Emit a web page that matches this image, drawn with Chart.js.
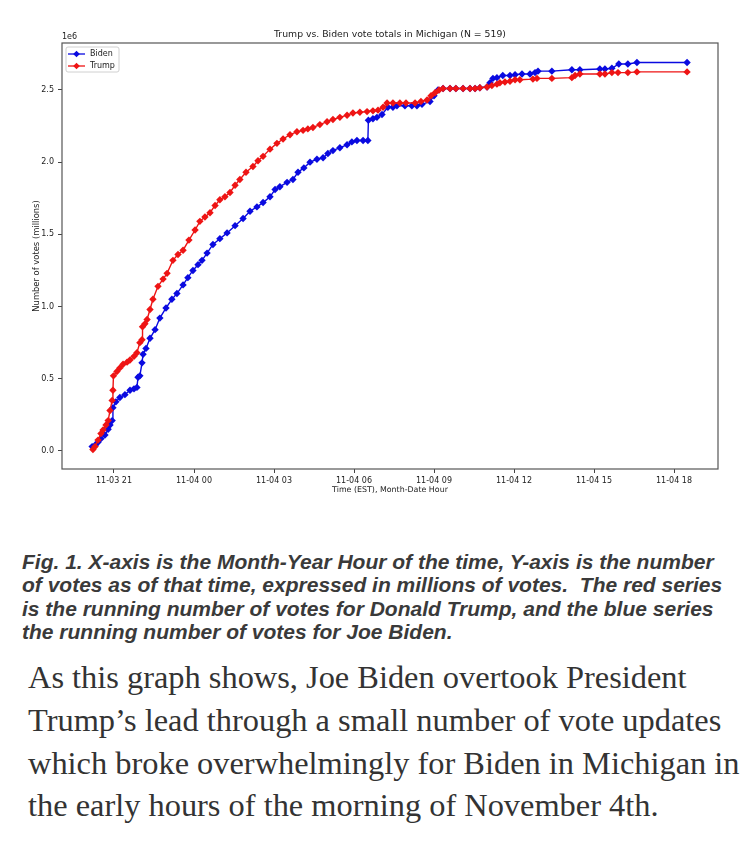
<!DOCTYPE html>
<html>
<head>
<meta charset="utf-8">
<script src="https://cdn.jsdelivr.net/npm/chart.js@4.4.1/dist/chart.umd.min.js"></script>
<style>
    body { margin: 0; background: #fff; width: 750px; }
    #wrap { position: relative; width: 750px; height: 505px; }
    .caption {
        margin: 45px 0 0 22px;
        font-family: "Liberation Sans", Arial, sans-serif;
        font-weight: bold;
        font-style: italic;
        font-size: 21px;
        line-height: 23.3px;
        color: #3a3a3a;
        white-space: nowrap;
    }
    .text {
        margin: 13px 0 0 28px;
        font-family: "Liberation Serif", serif;
        font-size: 32.4px;
        line-height: 42.7px;
        color: #333;
        white-space: nowrap;
    }
</style>
</head>
<body>
<div id="wrap"><canvas id="chart" width="750" height="505"></canvas></div>
<div class="caption">Fig. 1. X-axis is the Month-Year Hour of the time, Y-axis is the number<br>of votes as of that time, expressed in millions of votes.&nbsp; The red series<br>is the running number of votes for Donald Trump, and the blue series<br>the running number of votes for Joe Biden.</div>
<div class="text">As this graph shows, Joe Biden overtook President<br>Trump’s lead through a small number of vote updates<br>which broke overwhelmingly for Biden in Michigan in<br>the early hours of the morning of November 4th.</div>

<script>
// hours counted from 11-03 00:00 EST, votes in millions
const bidenHours = [20.18, 20.29, 20.40, 20.51, 20.66, 20.78, 20.85, 20.93, 20.96, 21.07,
    21.22, 21.41, 21.60, 21.75, 21.86, 21.90, 21.97, 22.05, 22.09, 22.20,
    22.35, 22.54, 22.72, 22.95, 23.17, 23.36, 23.59, 23.77, 23.96, 24.15,
    24.30, 24.49, 24.71, 24.97, 25.24, 25.54, 25.84, 26.10, 26.36, 26.59,
    26.85, 27.04, 27.22, 27.49, 27.71, 27.90, 28.12, 28.35, 28.61, 28.84,
    29.02, 29.21, 29.47, 29.74, 29.92, 30.11, 30.34, 30.52, 30.54, 30.71,
    30.86, 31.05, 31.27, 31.46, 31.61, 31.91, 32.17, 32.36, 32.55, 32.85,
    33.00, 33.15, 33.34, 33.60, 33.82, 34.09, 34.35, 34.54, 34.72, 34.99,
    35.10, 35.21, 35.36, 35.58, 35.85, 36.04, 36.30, 36.60, 36.79, 36.90,
    37.42, 38.17, 38.47, 39.22, 39.41, 39.67, 39.93, 40.27, 40.61, 42.49]
const bidenVotes = [0.03, 0.04, 0.06, 0.085, 0.11, 0.15, 0.18, 0.21, 0.30, 0.34,
    0.37, 0.39, 0.42, 0.43, 0.44, 0.51, 0.52, 0.61, 0.67, 0.71,
    0.78, 0.84, 0.92, 0.99, 1.05, 1.09, 1.15, 1.20, 1.25, 1.29,
    1.32, 1.37, 1.43, 1.47, 1.51, 1.56, 1.61, 1.66, 1.69, 1.72,
    1.76, 1.81, 1.83, 1.86, 1.88, 1.93, 1.96, 2.00, 2.02, 2.03,
    2.06, 2.08, 2.10, 2.12, 2.14, 2.15, 2.15, 2.15, 2.29, 2.30,
    2.31, 2.33, 2.38, 2.38, 2.39, 2.39, 2.39, 2.39, 2.40, 2.42,
    2.46, 2.50, 2.51, 2.51, 2.51, 2.51, 2.51, 2.51, 2.515, 2.52,
    2.55, 2.58, 2.585, 2.60, 2.60, 2.605, 2.61, 2.61, 2.62, 2.63,
    2.63, 2.64, 2.64, 2.645, 2.645, 2.65, 2.68, 2.68, 2.69, 2.69]

const trumpHours = [20.21, 20.29, 20.40, 20.51, 20.59, 20.70, 20.78, 20.85, 20.93, 20.96,
    20.98, 21.11, 21.22, 21.34, 21.49, 21.60, 21.75, 21.86, 21.97, 22.05,
    22.07, 22.16, 22.24, 22.35, 22.46, 22.65, 22.84, 22.99, 23.21, 23.40,
    23.59, 23.81, 24.04, 24.22, 24.41, 24.60, 24.79, 24.97, 25.16, 25.35,
    25.54, 25.72, 25.95, 26.21, 26.40, 26.59, 26.85, 27.11, 27.34, 27.60,
    27.86, 28.09, 28.27, 28.46, 28.72, 28.99, 29.21, 29.47, 29.74, 29.96,
    30.22, 30.49, 30.71, 30.90, 31.09, 31.24, 31.46, 31.72, 31.95, 32.29,
    32.51, 32.74, 32.89, 33.04, 33.19, 33.34, 33.60, 33.82, 34.09, 34.35,
    34.54, 34.72, 34.99, 35.17, 35.36, 35.47, 35.66, 35.85, 36.04, 36.22,
    36.71, 36.86, 37.42, 38.17, 38.29, 38.47, 39.22, 39.41, 39.67, 39.90,
    40.27, 40.61, 42.49]
const trumpVotes = [0.01, 0.03, 0.075, 0.12, 0.145, 0.18, 0.21, 0.28, 0.35, 0.42,
    0.52, 0.55, 0.575, 0.60, 0.615, 0.63, 0.655, 0.68, 0.75, 0.77,
    0.86, 0.88, 0.91, 0.98, 1.05, 1.14, 1.19, 1.23, 1.32, 1.36,
    1.39, 1.46, 1.53, 1.59, 1.62, 1.65, 1.70, 1.74, 1.76, 1.79,
    1.84, 1.88, 1.93, 1.97, 2.01, 2.04, 2.09, 2.13, 2.16, 2.19,
    2.21, 2.22, 2.23, 2.24, 2.26, 2.28, 2.295, 2.31, 2.325, 2.34,
    2.345, 2.35, 2.355, 2.36, 2.38, 2.41, 2.41, 2.41, 2.41, 2.41,
    2.42, 2.43, 2.46, 2.48, 2.50, 2.51, 2.51, 2.51, 2.51, 2.51,
    2.51, 2.515, 2.52, 2.53, 2.54, 2.55, 2.555, 2.56, 2.57, 2.57,
    2.575, 2.58, 2.58, 2.585, 2.60, 2.61, 2.61, 2.61, 2.62, 2.62,
    2.62, 2.625, 2.625]

const xTickHours = [21, 24, 27, 30, 33, 36, 39, 42]
const xTickLabels = ['11-03 21', '11-04 00', '11-04 03', '11-04 06', '11-04 09', '11-04 12', '11-04 15', '11-04 18']
const yTicks = [0, 0.5, 1.0, 1.5, 2.0, 2.5]

const BLUE = '#0a0ae0'
const RED = '#ee1414'
const FONT = 'DejaVu Sans'

function toPoints(hours, votes) {
    return hours.map((h, i) => ({ x: h, y: votes[i] }))
}

function diamond(ctx, x, y, r) {
    ctx.beginPath()
    ctx.moveTo(x, y - r)
    ctx.lineTo(x + r, y)
    ctx.lineTo(x, y + r)
    ctx.lineTo(x - r, y)
    ctx.closePath()
    ctx.fill()
}

// frame, title, offset text and legend, matplotlib style
const extras = {
    id: 'extras',
    afterDraw(chart) {
        const { ctx, chartArea: a } = chart
        ctx.save()
        ctx.strokeStyle = '#555'
        ctx.lineWidth = 1.2
        ctx.strokeRect(a.left, a.top, a.right - a.left, a.bottom - a.top)

        ctx.fillStyle = '#222'
        ctx.font = `9.3px "${FONT}"`
        ctx.textAlign = 'center'
        ctx.textBaseline = 'middle'
        ctx.fillText('Trump vs. Biden vote totals in Michigan (N = 519)', (a.left + a.right) / 2, 35)

        ctx.font = `8px "${FONT}"`
        ctx.textAlign = 'left'
        ctx.fillText('1e6', a.left, 37)

        // legend box
        const bx = a.left + 4, by = a.top + 4
        ctx.fillStyle = 'rgba(255,255,255,0.85)'
        ctx.strokeStyle = '#d0d0d0'
        ctx.lineWidth = 1
        ctx.beginPath()
        ctx.roundRect(bx, by, 53, 25, 2)
        ctx.fill()
        ctx.stroke()

        const items = [['Biden', BLUE], ['Trump', RED]]
        items.forEach(([name, color], i) => {
            const y = by + 7 + i * 12
            ctx.strokeStyle = color
            ctx.fillStyle = color
            ctx.lineWidth = 1.3
            ctx.beginPath()
            ctx.moveTo(bx + 2, y)
            ctx.lineTo(bx + 19, y)
            ctx.stroke()
            diamond(ctx, bx + 10.5, y, 3.3)
            ctx.fillStyle = '#222'
            ctx.fillText(name, bx + 24, y)
        })
        ctx.restore()
    }
}

new Chart('chart', {
    type: 'line',
    data: {
        datasets: [
            {
                label: 'Biden',
                data: toPoints(bidenHours, bidenVotes),
                borderColor: BLUE,
                backgroundColor: BLUE,
                borderWidth: 1.4,
                pointStyle: 'rectRot',
                pointRadius: 3.7,
                pointBorderWidth: 0,
                order: 1
            },
            {
                label: 'Trump',
                data: toPoints(trumpHours, trumpVotes),
                borderColor: RED,
                backgroundColor: RED,
                borderWidth: 1.4,
                pointStyle: 'rectRot',
                pointRadius: 3.7,
                pointBorderWidth: 0,
                order: 0
            }
        ]
    },
    options: {
        responsive: false,
        animation: false,
        layout: { padding: { left: 28, right: 32, top: 43, bottom: 0 } },
        plugins: {
            legend: { display: false },
            tooltip: { enabled: false }
        },
        scales: {
            x: {
                type: 'linear',
                min: 19.05,
                max: 43.65,
                afterBuildTicks: s => { s.ticks = xTickHours.map(v => ({ value: v })) },
                afterFit: s => { s.height = 36 },
                ticks: {
                    autoSkip: false,
                    maxRotation: 0,
                    padding: 3,
                    color: '#222',
                    font: { family: FONT, size: 8 },
                    callback: (v, i) => xTickLabels[i]
                },
                grid: { drawOnChartArea: false, tickLength: 4, color: '#444' },
                border: { display: false },
                title: {
                    display: true,
                    text: 'Time (EST), Month-Date Hour',
                    color: '#222',
                    font: { family: FONT, size: 7.9 },
                    padding: { top: 2, bottom: 10 }
                }
            },
            y: {
                min: -0.125,
                max: 2.825,
                afterBuildTicks: s => { s.ticks = yTicks.map(v => ({ value: v })) },
                afterFit: s => { s.width = 34 },
                ticks: {
                    padding: 4,
                    color: '#222',
                    font: { family: FONT, size: 8 },
                    callback: v => v.toFixed(1)
                },
                grid: { drawOnChartArea: false, tickLength: 4, color: '#444' },
                border: { display: false },
                title: {
                    display: true,
                    text: 'Number of votes (millions)',
                    color: '#222',
                    font: { family: FONT, size: 8.4 },
                    padding: { top: 4, bottom: 2 }
                }
            }
        }
    },
    plugins: [extras]
})
</script>
</body>
</html>
